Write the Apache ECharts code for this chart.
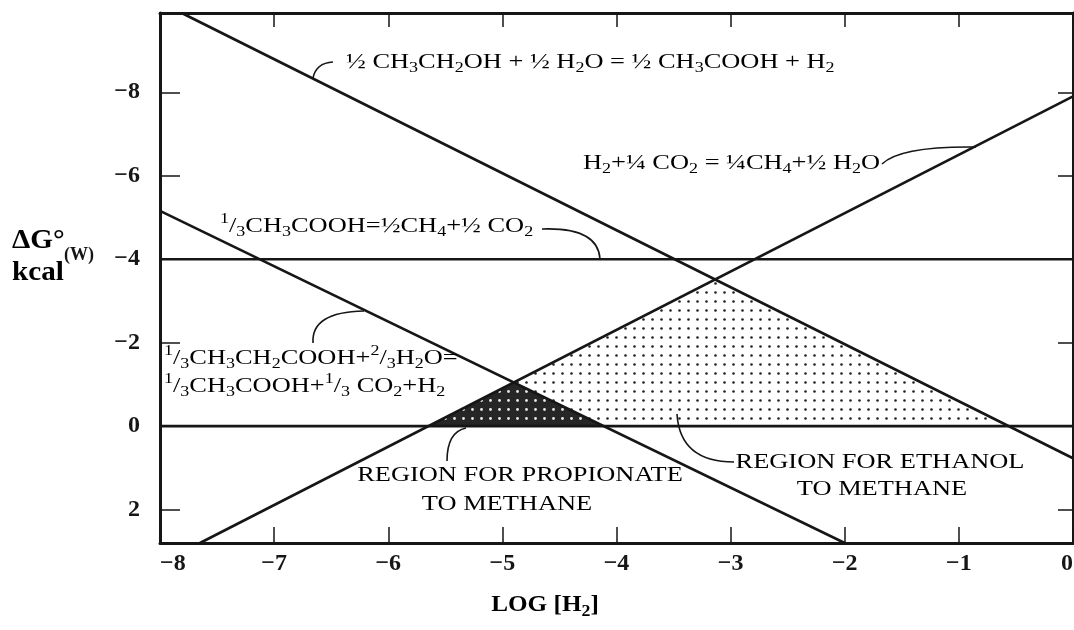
<!DOCTYPE html>
<html>
<head>
<meta charset="utf-8">
<script src="https://cdn.jsdelivr.net/npm/echarts@6/dist/echarts.min.js"></script>
<style>
  html, body { margin: 0; padding: 0; background: #fff; }
  #chart { width: 1074px; height: 630px; }
</style>
</head>
<body>
<div id="chart"></div>
<script>
// axis ticks
const xTicks = [-8, -7, -6, -5, -4, -3, -2, -1, 0]
const yTicks = [-8, -6, -4, -2, 0, 2]

// reaction lines, endpoints [log H2, dG kcal]
const ethanolLine = [[-7.81, -9.9], [0, 0.77]]
const hydrogenLine = [[-7.65, 2.8], [0, -7.9]]
const acetateLine = [[-8, -4], [0, -4]]
const propionateLine = [[-8, -5.16], [-2.0, 2.8]]
const zeroLine = [[-8, 0], [0, 0]]

const FONT = '"Liberation Serif", "DejaVu Serif", serif'
const INK = '#161616'

function intersect(a, b) {
  const [[x1, y1], [x2, y2]] = a
  const [[x3, y3], [x4, y4]] = b
  const d = (x1 - x2) * (y3 - y4) - (y1 - y2) * (x3 - x4)
  const t = ((x1 - x3) * (y3 - y4) - (y1 - y3) * (x3 - x4)) / d
  return [x1 + t * (x2 - x1), y1 + t * (y2 - y1)]
}

const ethanolRegion = [
  intersect(hydrogenLine, zeroLine),
  intersect(hydrogenLine, ethanolLine),
  intersect(ethanolLine, zeroLine)
]
const propionateRegion = [
  intersect(hydrogenLine, zeroLine),
  intersect(hydrogenLine, propionateLine),
  intersect(propionateLine, zeroLine)
]

function makePattern(bg, dot, step, r) {
  const c = document.createElement('canvas')
  c.width = step; c.height = step
  const g = c.getContext('2d')
  if (bg) { g.fillStyle = bg; g.fillRect(0, 0, step, step) }
  g.fillStyle = dot
  g.beginPath(); g.arc(step / 2, step / 2, r, 0, Math.PI * 2); g.fill()
  return c
}
const lightDots = makePattern(null, '#222', 9, 1.3)
const darkDots = makePattern('#262626', '#e8e8e8', 9, 1.4)

// turn "CH_3" / "^1/_3" markup into rich text tokens
function fmt(str) {
  let out = '', buf = ''
  const flush = () => { if (buf) { out += '{n|' + buf + '}'; buf = '' } }
  for (let i = 0; i < str.length; i++) {
    const ch = str[i]
    if ((ch === '_' || ch === '^') && i + 1 < str.length) {
      flush()
      out += '{' + (ch === '_' ? 's' : 'p') + '|' + str[i + 1] + '}'
      i++
    } else buf += ch
  }
  flush()
  return out
}
function rich(size, bold) {
  const w = bold ? 'bold' : 'normal'
  const sm = Math.round(size * 0.7)
  return {
    n: { fontFamily: FONT, fontSize: size, fontWeight: w, color: INK, lineHeight: size + 6 },
    s: { fontFamily: FONT, fontSize: sm, fontWeight: w, color: INK, lineHeight: sm + 1, verticalAlign: 'bottom' },
    p: { fontFamily: FONT, fontSize: sm, fontWeight: w, color: INK, lineHeight: sm + 1, verticalAlign: 'top' }
  }
}
function label(x, y, txt, size, bold, align, sx) {
  return {
    type: 'text', x, y, z: 10, scaleX: sx || 1.2,
    style: {
      text: fmt(txt), rich: rich(size, bold),
      align: align || 'left', verticalAlign: 'middle',
      textAlign: align || 'left', textVerticalAlign: 'middle'
    }
  }
}
function leader(x1, y1, cx, cy, x2, y2) {
  return {
    type: 'bezierCurve', z: 10,
    shape: { x1, y1, x2, y2, cpx1: cx, cpy1: cy },
    style: { stroke: INK, lineWidth: 1.6, fill: null }
  }
}

const chart = echarts.init(document.getElementById('chart'), null, { renderer: 'canvas' })

const lineSeries = (data) => ({
  type: 'line', data, symbol: 'none', silent: true, z: 5,
  lineStyle: { color: INK, width: 2.6 }
})
const regionSeries = (pts, fill) => ({
  type: 'custom', silent: true, z: 2,
  data: [[0]],
  renderItem(params, api) {
    return {
      type: 'polygon',
      shape: { points: pts.map(p => api.coord(p)) },
      style: { fill: { image: fill, repeat: 'repeat' }, stroke: null }
    }
  }
})

const axisText = {
  fontFamily: FONT, fontWeight: 'bold', fontSize: 24, color: INK,
  formatter: v => String(v).replace('-', '\u2212')
}

chart.setOption({
  animation: false,
  backgroundColor: '#fff',
  grid: { left: 160, top: 13, right: 1, bottom: 87, containLabel: false, outerBoundsMode: 'none' },
  xAxis: [
    {
      type: 'value', min: -8, max: 0, interval: 1, position: 'bottom',
      axisLine: { onZero: false, lineStyle: { color: INK, width: 3 } },
      axisTick: { inside: true, length: 16, lineStyle: { color: INK, width: 1.5 } },
      axisLabel: { ...axisText, margin: 9, customValues: xTicks, alignMinLabel: 'left', alignMaxLabel: 'right' },
      splitLine: { show: false }
    },
    {
      type: 'value', min: -8, max: 0, interval: 1, position: 'top',
      axisLine: { onZero: false, lineStyle: { color: INK, width: 3 } },
      axisTick: { inside: true, length: 14, lineStyle: { color: INK, width: 1.5 } },
      axisLabel: { show: false },
      splitLine: { show: false }
    }
  ],
  yAxis: [
    {
      type: 'value', inverse: true, min: -9.9, max: 2.8, position: 'left',
      axisLine: { onZero: false, lineStyle: { color: INK, width: 3 } },
      axisTick: { inside: true, length: 20, customValues: yTicks, lineStyle: { color: INK, width: 1.5 } },
      axisLabel: { ...axisText, margin: 20, customValues: yTicks },
      splitLine: { show: false }
    },
    {
      type: 'value', inverse: true, min: -9.9, max: 2.8, position: 'right',
      axisLine: { onZero: false, lineStyle: { color: INK, width: 3 } },
      axisTick: { inside: true, length: 15, customValues: yTicks, lineStyle: { color: INK, width: 1.5 } },
      axisLabel: { show: false },
      splitLine: { show: false }
    }
  ],
  series: [
    regionSeries(ethanolRegion, lightDots),
    regionSeries(propionateRegion, darkDots),
    lineSeries(zeroLine),
    lineSeries(acetateLine),
    lineSeries(ethanolLine),
    lineSeries(hydrogenLine),
    lineSeries(propionateLine)
  ],
  graphic: [
    label(12, 241, 'ΔG°', 27, true, 'left', 1.08),
    { type: 'text', x: 64, y: 255, z: 10, style: { text: '(W)', font: 'bold 18px ' + FONT, fill: INK, verticalAlign: 'middle', textVerticalAlign: 'middle' } },
    label(12, 273, 'kcal', 27, true, 'left', 1.08),
    label(545, 605, 'LOG [H_2]', 24, true, 'center', 1.05),

    label(346, 62, '½ CH_3CH_2OH + ½ H_2O = ½ CH_3COOH + H_2', 22),
    leader(313, 78, 316, 63, 333, 62),
    label(583, 163, 'H_2+¼ CO_2 = ¼CH_4+½ H_2O', 22),
    leader(882, 164, 900, 146, 976, 147),
    label(220, 226, '^1/_3CH_3COOH=½CH_4+½ CO_2', 22),
    leader(542, 229, 598, 227, 600, 259),
    label(164, 358, '^1/_3CH_3CH_2COOH+^2/_3H_2O=', 22),
    label(164, 386, '^1/_3CH_3COOH+^1/_3 CO_2+H_2', 22),
    leader(313, 343, 311, 312, 364, 311),

    label(520, 475, 'REGION FOR PROPIONATE', 22, false, 'center'),
    label(507, 504, 'TO METHANE', 22, false, 'center'),
    leader(447, 461, 447, 432, 466, 428),
    label(880, 462, 'REGION FOR ETHANOL', 22, false, 'center'),
    label(882, 489, 'TO METHANE', 22, false, 'center'),
    leader(734, 462, 680, 462, 677, 414)
  ]
})

window.addEventListener('resize', () => chart.resize())
</script>
</body>
</html>
